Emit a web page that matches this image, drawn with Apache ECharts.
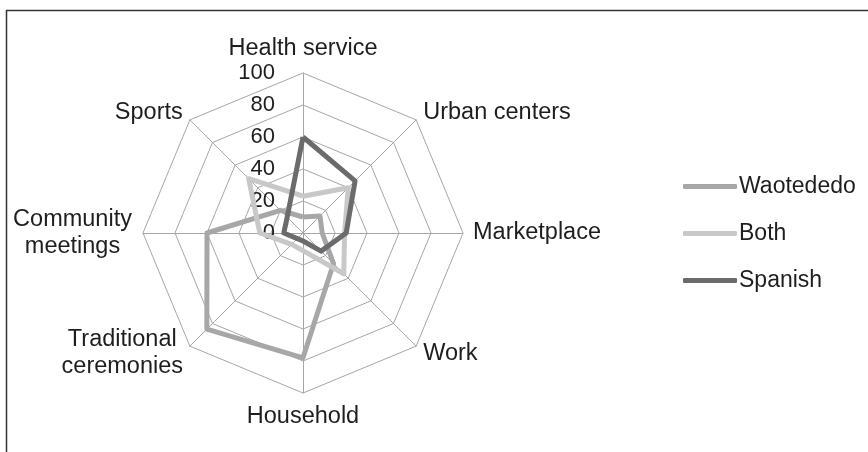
<!DOCTYPE html>
<html>
<head>
<meta charset="utf-8">
<script src="https://cdn.jsdelivr.net/npm/echarts@6/dist/echarts.min.js"></script>
<style>
  html, body { margin: 0; padding: 0; background: #fff; }
  .box { width: 868px; height: 452px; }
</style>
</head>
<body>
<div class="box"></div>
<script>
// axes of the radar, clockwise from the top
var categories = ['Health service', 'Urban centers', 'Marketplace', 'Work', 'Household', 'Traditional\nceremonies', 'Community\nmeetings', 'Sports'];
var seriesNames = ['Waotededo', 'Both', 'Spanish'];
var waotededo = [10, 15, 12, 27, 78, 85, 60, 20];
var both = [23, 40, 26, 36, 11, 10, 27, 48];
var spanish = [60, 46, 27, 16, 5, 5, 12, 14];
var tickMax = 100;

var colors = ['#a7a7a9', '#c8c8c8', '#6b6b6d'];
var values = [waotededo, both, spanish];

// echarts lays indicators out counter-clockwise, so walk the list backwards after the first
var order = [0];
for (var k = categories.length - 1; k > 0; k--) order.push(k);
function reorder(arr) { return order.map(function (i) { return arr[i]; }); }

var mychart = echarts.init(document.querySelector('.box'));

var indicator = reorder(categories).map(function (c, i) {
  var ind = { name: c, min: 0, max: tickMax };
  if (i === 0) {
    ind.axisLabel = {
      show: true,
      color: '#1e1e1e',
      fontSize: 22,
      margin: 28
    };
  }
  return ind;
});

var option = {
  color: colors,
  textStyle: { fontFamily: 'Liberation Sans' },
  graphic: [{
    type: 'rect',
    shape: { x: 6.5, y: 10.5, width: 900, height: 500 },
    style: { fill: 'none', stroke: '#333', lineWidth: 1.5 },
    silent: true
  }],
  legend: {
    orient: 'vertical',
    left: 683,
    top: 175,
    padding: 0,
    itemWidth: 54,
    itemHeight: 5,
    itemGap: 24,
    icon: 'roundRect',
    textStyle: { color: '#1e1e1e', fontSize: 23, padding: [0, 0, 0, -3] },
    data: seriesNames
  },
  radar: {
    center: [303, 233],
    radius: 160,
    startAngle: 90,
    shape: 'polygon',
    splitNumber: 5,
    nameGap: 10,
    axisName: {
      color: '#1e1e1e',
      fontSize: 23.5,
      lineHeight: 27,
      // two-line names are centred line by line, like the original
      formatter: function (name) {
        if (name.indexOf('\n') < 0) return name;
        return name.split('\n').map(function (l) { return '{c|' + l + '}'; }).join('\n');
      },
      rich: {
        c: { width: 121, align: 'center', fontSize: 23.5, lineHeight: 27, color: '#1e1e1e' }
      }
    },
    axisLine: { lineStyle: { color: '#a6a6a6', width: 1 } },
    splitLine: { lineStyle: { color: '#a6a6a6', width: 1 } },
    splitArea: { show: false },
    axisTick: { show: false },
    axisLabel: { show: false },
    indicator: indicator
  },
  series: seriesNames.map(function (n, i) {
    return {
      name: n,
      type: 'radar',
      symbol: 'none',
      silent: true,
      lineStyle: { color: colors[i], width: 5 },
      itemStyle: { color: colors[i] },
      data: [{ name: n, value: reorder(values[i]) }]
    };
  })
};
mychart.setOption(option);
</script>
</body>
</html>
